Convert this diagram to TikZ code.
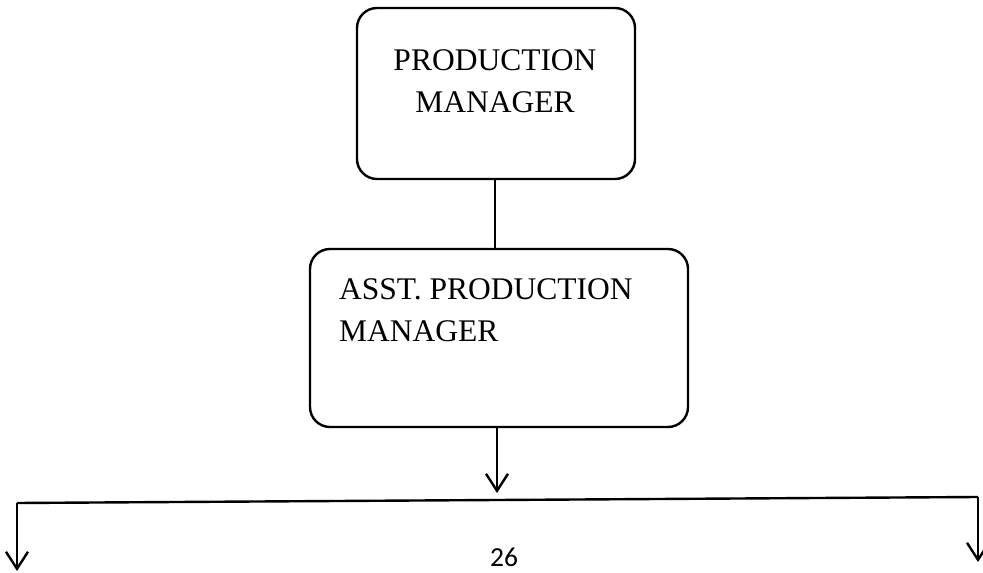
\documentclass[tikz,border=0pt]{standalone}
\usepackage{fontspec}
\setmainfont{Liberation Serif}
\newfontfamily\pagenumfont{Carlito}
\usetikzlibrary{arrows.meta,calc}
\begin{document}
\begin{tikzpicture}[x=1pt,y=1pt,
  line width=2.4pt,
  post/.style={draw, rounded corners=20pt, inner sep=0pt},
  posttext/.style={inner sep=0pt, font=\fontsize{31.5}{42}\selectfont},
  down/.style={-{Straight Barb[length=17pt,width=22pt]}}
]
\useasboundingbox (0,0) rectangle (983,573);

% boxes of the chart
\node[post, minimum width=278pt, minimum height=171pt] (pm) at (496,479.5) {};
\node[posttext, anchor=north, align=center] (pmtext) at (495,525) {PRODUCTION\\MANAGER};

\node[post, minimum width=378pt, minimum height=178pt] (apm) at (499,235) {};
\node[posttext, anchor=north west, align=left] (apmtext) at (338,296) {ASST. PRODUCTION\\MANAGER};

% distribution bar and its two ends
\coordinate (barL) at (17,70);
\coordinate (barR) at (978,76);
\coordinate (apmtip) at (497,80);
\coordinate (leftTip) at (17,2);
\coordinate (rightTip) at (978,11);

% connectors
\draw (pm.south -| 495,0) -- (495,0 |- apm.north);
\draw[down] (apm.south -| apmtip) -- (apmtip);
\draw (barL) -- (barR);
\draw[down] (barL) -- (leftTip);
\draw[down] (barR) -- (rightTip);

% page number
\node[inner sep=0pt, font=\pagenumfont\fontsize{27.5}{33}\selectfont] (pagenum) at (504,16) {26};
\end{tikzpicture}
\end{document}
